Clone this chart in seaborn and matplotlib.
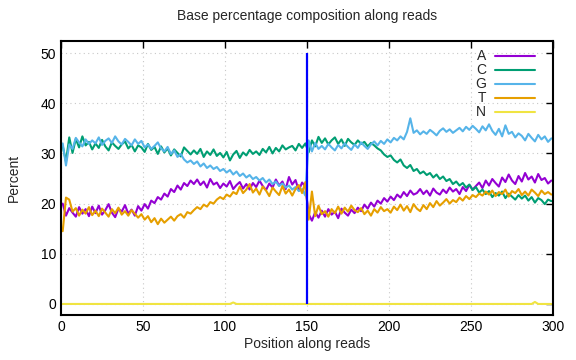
import numpy as np
import pandas as pd
import seaborn as sns
import matplotlib.pyplot as plt

# positions along the read (every second base)
positions = list(range(1, 300, 2))

base_a = [
    20.0, 17.6, 19.1, 18.2, 17.4, 19.3, 18.0, 18.9, 17.5, 19.4,
    18.1, 19.6, 17.8, 18.7, 19.9, 18.2, 17.3, 19.0, 18.4, 19.7,
    18.0, 18.8, 17.6, 19.5, 18.6, 19.9, 19.0, 20.6, 20.1, 21.3,
    20.8, 22.0, 21.4, 22.9, 22.3, 23.6, 22.8, 24.1, 23.5, 24.6,
    23.9, 24.8, 23.7, 24.4, 23.2, 24.9, 23.8, 24.2, 23.1, 24.0,
    23.4, 24.5, 22.9, 23.7, 24.3, 23.0, 23.9, 22.8, 24.1, 23.3,
    24.6, 23.5, 22.7, 24.0, 23.2, 24.8, 23.6, 24.4, 22.9, 25.3,
    23.8, 24.7, 22.6, 24.2, 23.4, 17.9, 16.6, 18.3, 17.2, 18.6,
    17.4, 18.9, 17.8, 18.4, 17.1, 19.0, 18.2, 17.6, 18.8, 18.1,
    19.2, 18.5, 19.8, 19.0, 20.2, 19.4, 20.6, 20.0, 21.1, 20.4,
    21.4, 20.7, 21.8, 21.2, 22.3, 21.5, 22.6, 21.8, 22.1, 22.9,
    21.9, 22.6, 21.6, 23.0, 22.2, 21.8, 22.8, 22.1, 23.2, 22.4,
    22.9, 21.9, 23.3, 22.5, 23.7, 22.8, 23.5, 24.2, 23.1, 24.6,
    23.6, 24.9, 24.1, 23.4, 25.2, 24.3, 25.8, 24.6, 23.9, 25.5,
    24.4, 26.1, 24.8, 25.4, 24.2, 25.9, 24.7, 25.1, 24.0, 24.6,
]

base_c = [
    31.5, 28.4, 33.2, 30.1, 32.9, 31.2, 33.4, 31.6, 32.3, 30.8,
    32.0, 31.1, 32.7, 31.4, 30.6, 32.2, 31.5, 30.9, 31.8, 32.4,
    31.0, 31.7, 30.4, 31.6, 31.2, 30.3, 31.9, 30.7, 31.3, 29.9,
    31.4, 30.2, 31.0, 29.6, 30.8, 30.1, 29.4, 31.2, 30.5, 29.8,
    30.6, 29.9, 30.9, 29.3, 30.4, 29.7, 30.8, 29.5, 30.1, 29.2,
    30.3, 28.6, 29.8, 30.5, 29.1, 30.2, 29.6, 30.7, 29.9, 30.4,
    29.7, 30.9, 30.2, 31.3, 30.0, 31.1, 30.4, 31.6, 30.8, 31.2,
    31.5, 30.6, 31.9, 31.1, 32.0, 30.2, 32.6, 31.4, 33.3, 32.1,
    33.0, 31.8, 32.6, 33.2, 31.9, 32.8, 31.5, 32.9, 32.2, 31.7,
    32.6, 31.9, 32.3, 31.4, 32.1, 31.6, 31.0, 30.6, 29.8, 29.3,
    29.6, 28.7, 28.2, 28.8, 27.6, 27.1, 27.7, 26.5, 26.9, 26.0,
    26.4, 25.7, 26.1, 25.2, 25.8, 24.9, 25.4, 24.5, 24.9, 23.9,
    24.4, 23.6, 24.1, 23.2, 23.8, 22.7, 23.3, 22.2, 22.8, 21.9,
    22.5, 21.3, 22.1, 21.6, 22.4, 21.1, 22.0, 21.4, 20.8, 21.7,
    21.0, 21.6, 20.6, 21.3, 20.2, 21.1, 20.7, 19.9, 20.8, 20.5,
]

base_g = [
    32.0, 27.6, 31.8, 30.9, 33.1, 32.2, 31.4, 32.8, 31.9, 32.6,
    32.0, 33.2, 31.7, 32.5, 33.0, 32.1, 33.4, 32.4, 31.8, 32.9,
    32.3, 31.6, 32.8, 31.9, 32.5, 31.2, 31.8, 30.9, 31.5, 32.2,
    31.0, 30.4, 31.3, 29.9, 30.6, 29.3, 29.9, 28.8, 28.2, 28.6,
    27.9, 28.4, 27.4, 28.0, 27.1, 27.6, 26.9, 27.3, 26.5, 26.9,
    26.2, 26.7, 25.8, 26.4, 25.5, 26.0, 25.2, 25.7, 24.9, 25.3,
    24.6, 25.1, 24.2, 24.8, 23.9, 24.4, 23.5, 24.0, 23.2, 23.6,
    22.8, 23.3, 22.5, 22.9, 21.6, 32.6, 30.4, 32.1, 30.9, 31.5,
    30.8, 31.9, 31.2, 30.6, 31.7, 31.0, 32.0, 31.3, 30.7, 31.8,
    31.1, 32.2, 31.5, 30.9, 31.8, 32.4, 31.6, 32.5, 31.9, 32.8,
    32.2, 33.1, 32.6, 33.4, 32.8, 34.3, 37.0, 34.1, 34.6, 33.8,
    34.4, 33.9, 34.7, 34.2, 33.6, 34.5, 35.0, 34.3, 34.8, 34.1,
    34.6, 35.1, 34.4, 35.3, 34.7, 35.5, 34.9, 34.2, 35.4, 34.6,
    35.8, 34.5, 33.7, 34.9, 33.4, 35.6, 33.9, 34.3, 33.2, 34.0,
    33.5, 32.6, 33.9, 33.1, 32.4, 33.7, 32.8, 33.4, 32.3, 33.0,
]

base_t = [
    14.5, 21.2, 20.8, 18.4, 19.1, 17.6, 18.8, 18.0, 19.3, 17.7,
    18.6, 17.5, 19.0, 18.2, 17.4, 18.9, 18.1, 19.2, 17.8, 18.5,
    17.6, 18.7, 18.0, 17.2, 17.9, 16.8, 17.5, 16.3, 17.1, 15.9,
    17.0, 16.2, 16.8, 17.4, 16.6, 17.5, 17.9, 17.2, 18.3, 18.0,
    18.7, 19.3, 18.9, 19.8, 19.4, 20.3, 20.0, 20.8, 21.3, 20.9,
    21.8, 21.4, 22.3, 21.9, 23.4, 22.1, 22.8, 23.9, 22.2, 23.0,
    21.8, 23.4, 22.6, 21.5, 23.2, 22.4, 21.7, 23.5, 22.0, 22.8,
    21.6, 22.9, 23.7, 22.1, 24.3, 16.8, 22.4, 17.5, 19.6, 17.9,
    18.5, 17.4, 18.9, 18.1, 19.4, 18.0, 19.2, 18.4, 19.6, 18.7,
    18.3, 19.1, 17.9, 18.6, 17.6, 18.9, 18.2, 19.3, 18.5, 18.9,
    18.2, 19.4, 18.7, 19.8, 18.6, 19.5, 18.3, 19.9, 19.0, 18.5,
    19.7, 18.9, 20.1, 19.3, 20.5, 19.6, 20.2, 20.9, 20.0, 20.7,
    20.3, 21.2, 20.6, 21.5, 20.9, 21.7, 21.3, 22.0, 21.6, 22.4,
    21.8, 22.6, 21.5, 22.3, 21.9, 22.8, 21.4, 22.5, 22.1, 22.9,
    21.7, 22.4, 21.6, 22.8, 22.2, 21.5, 22.6, 21.9, 22.3, 21.8,
]

base_n = [
    0.0, 0.0, 0.0, 0.0, 0.0, 0.0, 0.0, 0.0, 0.0, 0.0,
    0.0, 0.0, 0.0, 0.0, 0.0, 0.0, 0.0, 0.0, 0.0, 0.0,
    0.0, 0.0, 0.0, 0.0, 0.0, 0.0, 0.0, 0.0, 0.0, 0.0,
    0.0, 0.0, 0.0, 0.0, 0.0, 0.0, 0.0, 0.0, 0.0, 0.0,
    0.0, 0.0, 0.0, 0.0, 0.0, 0.0, 0.0, 0.0, 0.0, 0.0,
    0.0, 0.0, 0.3, 0.0, 0.0, 0.0, 0.0, 0.0, 0.0, 0.0,
    0.0, 0.0, 0.0, 0.0, 0.0, 0.0, 0.0, 0.0, 0.0, 0.0,
    0.0, 0.0, 0.0, 0.0, 0.0, 0.0, 0.0, 0.0, 0.0, 0.0,
    0.0, 0.0, 0.0, 0.0, 0.0, 0.0, 0.0, 0.0, 0.0, 0.0,
    0.0, 0.0, 0.0, 0.0, 0.0, 0.0, 0.0, 0.0, 0.0, 0.0,
    0.0, 0.0, 0.0, 0.0, 0.0, 0.0, 0.0, 0.0, 0.0, 0.0,
    0.0, 0.0, 0.0, 0.0, 0.0, 0.0, 0.0, 0.0, 0.0, 0.0,
    0.0, 0.0, 0.0, 0.0, 0.0, 0.0, 0.0, 0.0, 0.0, 0.0,
    0.0, 0.0, 0.0, 0.0, 0.0, 0.0, 0.0, 0.0, 0.0, 0.0,
    0.0, 0.0, 0.0, 0.0, 0.4, 0.0, 0.0, 0.0, 0.0, 0.0,
]

bases = ["A", "C", "G", "T", "N"]
colors = ["#9400d3", "#009e73", "#56b4e9", "#e69f00", "#f0e442"]
read_boundary = 150
boundary_top = 50

# long form table for seaborn
frames = []
for name, vals in zip(bases, [base_a, base_c, base_g, base_t, base_n]):
    frames.append(pd.DataFrame({"pos": positions, "pct": vals, "base": name}))
df = pd.concat(frames, ignore_index=True)

sns.set_style("white")
plt.rcParams["font.family"] = ["Liberation Sans", "DejaVu Sans"]

fig = plt.figure(figsize=(5.76, 3.6), dpi=100)
ax = fig.add_axes([0.106, 0.125, 0.854, 0.761])

sns.lineplot(data=df, x="pos", y="pct", hue="base", hue_order=bases,
             palette=colors, linewidth=1.5, ax=ax)

# boundary between the two reads of a pair
ax.vlines(read_boundary, 0, boundary_top, color="#0000ff", linewidth=1.6)

ax.set_xlim(0, 300)
ax.set_ylim(-2.2, 52.4)
ax.set_xticks(range(0, 301, 50))
ax.set_yticks(range(0, 51, 10))
ax.grid(True, color="#c8c8c8", linestyle=(0, (1, 3)), linewidth=0.8)
ax.tick_params(direction="in", length=5, width=1, top=True, right=True,
               labelsize=10, colors="black")
for side in ax.spines.values():
    side.set_color("black")
    side.set_linewidth(1.5)

ax.set_title("Base percentage composition along reads", fontsize=10, pad=15)
ax.set_xlabel("Position along reads", fontsize=10, labelpad=2)
ax.set_ylabel("Percent", fontsize=10, labelpad=14)

leg = ax.legend(loc="upper right", bbox_to_anchor=(0.98, 1.0),
                frameon=False, markerfirst=False, handlelength=2.9,
                handletextpad=0.6, labelspacing=0.0, fontsize=10,
                borderaxespad=0.2)
for line in leg.get_lines():
    line.set_linewidth(1.5)

fig.savefig("out.png", dpi=100)
